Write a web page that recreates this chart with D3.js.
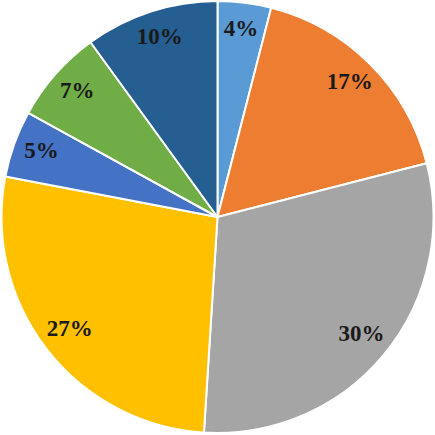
<!DOCTYPE html>
<html><head><meta charset="utf-8">
<script src="https://cdn.jsdelivr.net/npm/d3@7"></script>
<style>html,body{margin:0;padding:0;background:#fff;}</style>
</head><body>
<svg id="c" width="435" height="435"></svg>
<script>
const labels = ["4%","17%","30%","27%","5%","7%","10%"];
const values = [4,17,30,27,5,7,10];
const colors = ["#5B9BD5","#ED7D31","#A5A5A5","#FFC000","#4472C4","#70AD47","#255E91"];

const svg = d3.select("#c");
const cx = 217.5, cy = 217, r = 216;
const g = svg.append("g").attr("transform", `translate(${cx},${cy})`);
const pie = d3.pie().sort(null).value(d => d);
const arcs = pie(values);
const arc = d3.arc().innerRadius(0).outerRadius(r);
const labelArc = d3.arc().innerRadius(187).outerRadius(187);

g.selectAll("path").data(arcs).join("path")
  .attr("d", arc)
  .attr("fill", (d,i) => colors[i])
  .attr("stroke", "#fff")
  .attr("stroke-width", 2)
  .attr("stroke-linejoin", "round");

g.selectAll("text").data(arcs).join("text")
  .attr("transform", d => { const c = labelArc.centroid(d); return `translate(${c[0]},${c[1]-3})`; })
  .attr("text-anchor", "middle")
  .attr("dominant-baseline", "central")
  .attr("font-family", "'Liberation Serif', 'Times New Roman', serif")
  .attr("font-weight", "bold")
  .attr("font-size", 23)
  .attr("fill", "#1a1a1a")
  .text((d,i) => labels[i]);
</script>
</body></html>
